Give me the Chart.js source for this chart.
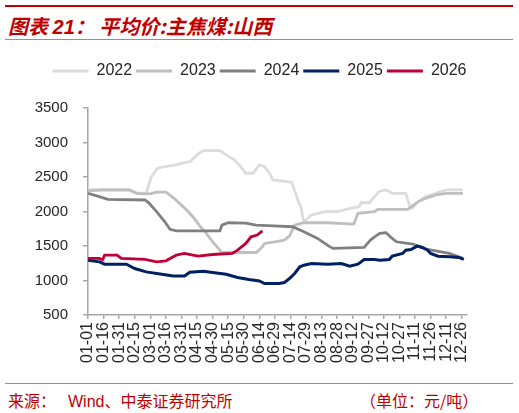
<!DOCTYPE html>
<html>
<head>
<meta charset="utf-8">
<script src="https://cdn.jsdelivr.net/npm/chart.js@4/dist/chart.umd.min.js"></script>
<style>
  body { margin: 0; width: 519px; height: 413px; position: relative; background: #fff; overflow: hidden; }
  .rule { position: absolute; left: 5px; width: 508px; }
  .title { position: absolute; left: 8px; top: 11px; color: #C00000; font: italic bold 20px "Noto Sans CJK SC", sans-serif; white-space: nowrap; }
  .title .num { font-family: "Liberation Sans", Arial, sans-serif; }
  .foot { position: absolute; top: 388px; color: #C00000; font: 16px "Noto Sans CJK SC", sans-serif; white-space: nowrap; }
  .foot .latin { font-family: "Liberation Sans", Arial, sans-serif; }
  #wrap { position: absolute; left: 0; top: 45px; width: 519px; height: 330px; }
</style>
</head>
<body>
<div class="rule" style="top:5px;height:2px;background:#C00000"></div>
<div class="title">图表 <span class="num">21</span>： 平均价:主焦煤:山西</div>
<div class="rule" style="top:39px;height:1px;background:#E07070"></div>
<div id="wrap"><canvas id="chart" width="519" height="330"></canvas></div>
<div class="rule" style="top:383px;height:1px;background:#E07070"></div>
<div class="foot" style="left:8px">来源：</div>
<div class="foot" style="left:68px"><span class="latin">Wind</span>、中泰证券研究所</div>
<div class="foot" style="left:360px">（单位：元/吨）</div>

<script>
// x = day of year (0 = 01-01) at the turning points
const tickLabels = ['01-01', '01-16', '01-31', '02-15', '03-01', '03-16', '03-31', '04-15', '04-30',
  '05-15', '05-30', '06-14', '06-29', '07-14', '07-29', '08-13', '08-28', '09-12', '09-27',
  '10-12', '10-27', '11-11', '11-26', '12-11', '12-26'];

const days2022 = [0, 5, 40, 45, 56, 61, 67, 74, 85, 93, 98, 107, 111, 127, 133, 141, 147, 152, 159, 165,
  170, 175, 178, 184, 196, 200, 202, 205, 207, 208, 215, 228, 240, 253, 261, 263, 271, 280, 287, 293,
  306, 310, 312, 318, 325, 335, 345, 361];
const vals2022 = [2310, 2320, 2320, 2270, 2265, 2500, 2627, 2651, 2675, 2708, 2723, 2845, 2883, 2883, 2820, 2748, 2651, 2554, 2554, 2675,
  2651, 2554, 2457, 2447, 2425, 2264, 2167, 2070, 1901, 1852, 1949, 1997, 1997, 2046, 2070, 2127, 2127, 2287, 2312, 2264,
  2264, 2070, 2046, 2142, 2215, 2264, 2312, 2312];

const days2023 = [0, 14, 40, 48, 60, 66, 75, 83, 88, 95, 101, 107, 114, 120, 127, 128, 162, 168, 170, 180,
  189, 194, 199, 208, 231, 256, 260, 276, 279, 308, 318, 325, 335, 345, 361];
const vals2023 = [2300, 2310, 2310, 2260, 2255, 2280, 2280, 2191, 2119, 2022, 1924, 1803, 1683, 1561, 1440, 1406, 1406, 1488, 1537, 1561,
  1585, 1643, 1803, 1837, 1837, 1818, 1973, 1997, 2030, 2030, 2142, 2191, 2240, 2264, 2264];

const days2024 = [0, 11, 19, 55, 59, 66, 74, 79, 85, 127, 129, 135, 152, 162, 184, 197, 208, 221, 232, 236,
  266, 272, 276, 281, 287, 293, 297, 313, 327, 348, 361];
const vals2024 = [2264, 2215, 2177, 2167, 2119, 1997, 1851, 1741, 1720, 1720, 1803, 1837, 1832, 1803, 1789, 1779, 1706, 1610, 1498, 1465,
  1479, 1585, 1633, 1683, 1693, 1610, 1561, 1527, 1450, 1392, 1320];

const days2025 = [0, 11, 16, 37, 45, 56, 71, 82, 93, 98, 111, 120, 133, 144, 155, 165, 170, 184, 189, 194, 199,
  204, 208, 215, 231, 244, 252, 260, 266, 276, 281, 290, 293, 303, 306, 311, 317, 322, 327, 330, 337, 348, 357, 362];
const vals2025 = [1295, 1270, 1237, 1237, 1174, 1125, 1091, 1067, 1067, 1120, 1135, 1116, 1091, 1043, 1014, 994, 956, 956, 970, 1029, 1102,
  1198, 1222, 1247, 1237, 1247, 1208, 1237, 1305, 1305, 1295, 1305, 1353, 1392, 1440, 1450, 1498, 1479, 1440, 1392, 1353, 1343, 1334, 1305];

const days2026 = [0, 11, 14, 16, 28, 32, 55, 66, 75, 85, 93, 101, 106, 120, 139, 144, 152, 157, 163, 168];
const vals2026 = [1320, 1320, 1300, 1367, 1367, 1320, 1305, 1270, 1285, 1367, 1392, 1367, 1353, 1377, 1392, 1440, 1537, 1633, 1658, 1720];

function toPoints(days, vals) {
  return days.map((d, i) => ({ x: d, y: vals[i] }));
}

function makeSeries(label, days, vals, color, width, order) {
  return {
    label: label,
    data: toPoints(days, vals),
    borderColor: color,
    backgroundColor: color,
    borderWidth: width,
    pointRadius: 0,
    tension: 0,
    order: order
  };
}

// push the plot down from the legend and centre the legend on the whole canvas
const legendGap = {
  id: 'legendGap',
  beforeInit(chart) {
    const fit = chart.legend.fit;
    chart.legend.fit = function () {
      fit.call(this);
      this.height += 19;
    };
  },
  afterLayout(chart) {
    chart.legend.left = 0;
    chart.legend.right = chart.width;
  }
};

const axisColor = '#A6A6A6';
const textColor = '#262626';

new Chart(document.getElementById('chart'), {
  type: 'line',
  data: {
    datasets: [
      makeSeries('2022', days2022, vals2022, '#DCDCDC', 2.8, 5),
      makeSeries('2023', days2023, vals2023, '#BFBFBF', 2.8, 4),
      makeSeries('2024', days2024, vals2024, '#808080', 2.8, 3),
      makeSeries('2025', days2025, vals2025, '#002060', 3, 2),
      makeSeries('2026', days2026, vals2026, '#C00039', 2.8, 1)
    ]
  },
  options: {
    responsive: false,
    animation: false,
    layout: { padding: { top: 14, right: 52, left: 0, bottom: 0 } },
    plugins: {
      tooltip: { enabled: false },
      legend: {
        position: 'top',
        labels: {
          boxWidth: 36,
          boxHeight: 3,
          padding: 4,
          color: textColor,
          font: { family: '"Liberation Sans", Arial, sans-serif', size: 16 },
          sort: (a, b) => a.datasetIndex - b.datasetIndex,
          generateLabels: chart => Chart.defaults.plugins.legend.labels.generateLabels(chart)
            .map(item => ({ ...item, lineWidth: 0 }))
        }
      }
    },
    scales: {
      x: {
        type: 'linear',
        min: 0,
        max: 365,
        afterFit: scale => { scale.height = 60; },
        border: { color: axisColor, width: 1.5 },
        grid: { display: true, drawOnChartArea: false, tickLength: 4, color: axisColor, lineWidth: 1.5 },
        ticks: {
          stepSize: 15,
          includeBounds: false,
          autoSkip: false,
          minRotation: 90,
          maxRotation: 90,
          padding: 3,
          color: textColor,
          font: { family: '"Liberation Sans", Arial, sans-serif', size: 16 },
          callback: value => tickLabels[value / 15]
        }
      },
      y: {
        min: 500,
        max: 3500,
        afterFit: scale => { scale.width = 88; },
        border: { color: axisColor, width: 1.5 },
        grid: { display: true, drawOnChartArea: false, tickLength: 5, color: axisColor, lineWidth: 1.5 },
        ticks: {
          stepSize: 500,
          padding: 15,
          color: textColor,
          font: { family: '"Liberation Sans", Arial, sans-serif', size: 15 },
          callback: value => String(value)
        }
      }
    }
  },
  plugins: [legendGap]
});
</script>
</body>
</html>
